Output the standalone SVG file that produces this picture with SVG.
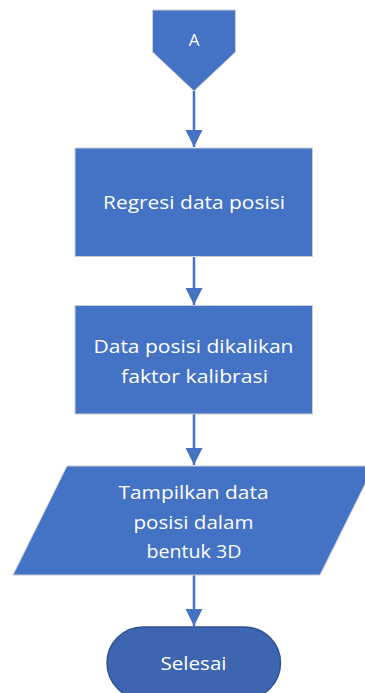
<svg xmlns="http://www.w3.org/2000/svg" width="365" height="693" viewBox="0 0 365 693">
<defs>
<style>
.box{fill:#4472C4;stroke:#C9CED8;stroke-width:1}
.term{fill:#3E65B0;stroke:#2F528F;stroke-width:1.5}
.lbl{font-family:"Open Sans","Liberation Sans",sans-serif;font-size:18.5px;fill:#FFFFFF;text-anchor:middle}
.conn{stroke:#4472C4;stroke-width:2.5;fill:none;marker-end:url(#ah)}
</style>
<marker id="ah" viewBox="0 0 10 10" refX="10" refY="5" markerWidth="7" markerHeight="7" markerUnits="strokeWidth" orient="auto">
<path d="M0,0 L10,5 L0,10 z" fill="#4472C4"/>
</marker>
</defs>
<g id="connectors">
<line class="conn" x1="194" y1="91" x2="194" y2="147"/>
<line class="conn" x1="194" y1="257" x2="194" y2="305"/>
<line class="conn" x1="194" y1="414" x2="194" y2="465"/>
<line class="conn" x1="194" y1="575" x2="194" y2="626"/>
</g>
<g id="offpage-A">
<path class="box" d="M152.5,10 H235.5 V52 L194,91 L152.5,52 Z"/>
<text class="lbl" x="194" y="46" style="font-size:17px">A</text>
</g>
<g id="regresi">
<rect class="box" x="75" y="148" width="237.5" height="108.5"/>
<text class="lbl" x="194" y="209" textLength="182" lengthAdjust="spacingAndGlyphs">Regresi data posisi</text>
</g>
<g id="kalibrasi">
<rect class="box" x="75" y="305.5" width="237.5" height="108.5"/>
<text class="lbl" x="193.5" y="353" textLength="200" lengthAdjust="spacingAndGlyphs">Data posisi dikalikan</text>
<text class="lbl" x="194.5" y="382.5" textLength="147" lengthAdjust="spacingAndGlyphs">faktor kalibrasi</text>
</g>
<g id="tampilkan">
<path class="box" d="M67,466 H374 L320,575 H13 Z"/>
<text class="lbl" x="193.5" y="499" textLength="150" lengthAdjust="spacingAndGlyphs">Tampilkan data</text>
<text class="lbl" x="193.5" y="529" textLength="120" lengthAdjust="spacingAndGlyphs">posisi dalam</text>
<text class="lbl" x="194" y="558" textLength="95" lengthAdjust="spacingAndGlyphs">bentuk 3D</text>
</g>
<g id="selesai">
<rect class="term" x="107" y="627" width="173.5" height="72" rx="36" ry="36"/>
<text class="lbl" x="193.5" y="670" textLength="66" lengthAdjust="spacingAndGlyphs">Selesai</text>
</g>
</svg>
